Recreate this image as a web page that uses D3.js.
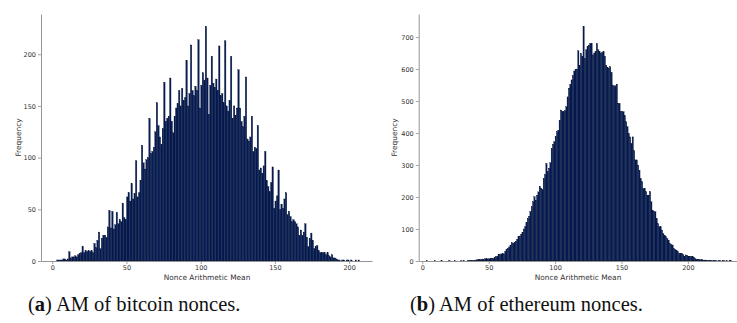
<!DOCTYPE html>
<html>
<head>
<meta charset="utf-8">
<script src="https://cdn.jsdelivr.net/npm/d3@7"></script>
<style>
  body { margin: 0; background: #fff; }
  svg { display: block; }
</style>
</head>
<body>
<svg id="chart" width="737" height="323"></svg>
<script>
// bin counts, one bin per unit of the nonce mean
const btcStart = 3
const btcCounts = [
  1, 1, 1, 1, 2, 2, 1, 2, 9, 3,
  4, 4, 5, 4, 6, 7, 8, 14, 8, 10,
  9, 10, 9, 10, 8, 17, 13, 20, 28, 12,
  22, 25, 25, 23, 33, 49, 32, 48, 31, 35,
  47, 36, 40, 38, 56, 42, 40, 62, 66, 58,
  75, 60, 65, 97, 62, 66, 78, 112, 95, 89,
  98, 100, 138, 104, 106, 110, 125, 153, 131, 120,
  113, 128, 173, 135, 138, 140, 177, 135, 124, 140,
  148, 152, 165, 150, 167, 155, 158, 194, 150, 162,
  209, 165, 160, 169, 165, 214, 148, 170, 182, 175,
  227, 177, 142, 170, 198, 172, 168, 176, 165, 208,
  160, 162, 153, 213, 150, 145, 155, 198, 138, 150,
  141, 148, 185, 148, 135, 130, 140, 178, 118, 116,
  120, 140, 106, 110, 109, 131, 88, 90, 85, 92,
  106, 78, 72, 67, 76, 91, 51, 58, 63, 88,
  50, 55, 51, 60, 66, 45, 48, 43, 38, 40,
  38, 36, 33, 25, 30, 25, 28, 36, 23, 14,
  22, 27, 20, 12, 14, 15, 10, 8, 8, 8,
  8, 6, 8, 5, 4, 6, 3, 3, 2, 1,
  1, 0, 1, 1, 0, 1, 1, 0, 1, 0, 0, 1, 0, 1
]

const ethStart = 0
const ethCounts = [
  0, 0, 0, 1, 0, 0, 0, 0, 0, 1,
  0, 0, 0, 0, 1, 0, 0, 0, 0, 0,
  1, 0, 0, 0, 1, 0, 0, 0, 0, 1,
  0, 1, 0, 0, 1, 2, 1, 2, 2, 1,
  3, 4, 5, 4, 5, 6, 5, 7, 8, 6,
  7, 8, 9, 8, 11, 13, 15, 21, 20, 22,
  24, 22, 30, 37, 40, 44, 50, 57, 55, 58,
  62, 68, 76, 78, 84, 90, 100, 107, 120, 133,
  140, 155, 170, 185, 201, 190, 205, 216, 234, 228,
  224, 258, 270, 305, 279, 290, 307, 352, 365, 373,
  390, 404, 409, 440, 472, 468, 467, 470, 482, 513,
  540, 552, 566, 580, 594, 598, 600, 657, 612, 649,
  640, 734, 633, 660, 670, 675, 680, 680, 644, 650,
  654, 680, 660, 654, 649, 652, 654, 640, 612, 605,
  602, 607, 590, 550, 545, 548, 553, 493, 493, 467,
  467, 467, 455, 435, 420, 399, 388, 368, 388, 345,
  316, 316, 300, 284, 258, 248, 227, 227, 217, 206,
  206, 217, 185, 159, 154, 154, 133, 117, 107, 107,
  97, 86, 80, 76, 70, 65, 55, 52, 50, 39,
  36, 32, 29, 24, 24, 24, 20, 15, 19, 17,
  15, 15, 14, 15, 12, 8, 6, 5, 5, 4,
  5, 3, 3, 3, 2, 2, 2, 1, 1, 1,
  1, 1, 0, 1, 1, 0, 1, 1, 0, 1, 0, 1, 1
]

const btcTicksX = [0, 50, 100, 150, 200]
const btcTicksY = [0, 50, 100, 150, 200]
const ethTicksX = [0, 50, 100, 150, 200]
const ethTicksY = [0, 100, 200, 300, 400, 500, 600, 700]

const xLabel = 'Nonce Arithmetic Mean'
const yLabel = 'Frequency'
const captionTags = ['a', 'b']
const captionTexts = [' AM of bitcoin nonces.', ' AM of ethereum nonces.']

const svg = d3.select('#chart')
const axisColor = '#8a8a8a'
const textColor = '#333'

function drawHist(opts) {
    const g = svg.append('g')
    const bins = opts.counts.map((c, i) => ({ x0: opts.start + i, x1: opts.start + i + 1, n: c }))

    const x = d3.scaleLinear().domain(opts.xDomain).range(opts.xRange)
    const y = d3.scaleLinear().domain(opts.yDomain).range([261, 14])

    g.selectAll('rect')
        .data(bins.filter(d => d.n > 0))
        .enter()
        .append('rect')
        .attr('x', d => x(d.x0))
        .attr('width', d => x(d.x1) - x(d.x0))
        .attr('y', d => y(d.n))
        .attr('height', d => y(0) - y(d.n))
        .attr('fill', '#031b57')
        .attr('stroke', '#0a1430')
        .attr('stroke-width', 0.3)

    const xAxis = g.append('g')
        .attr('transform', `translate(0, ${y.range()[0]})`)
        .call(d3.axisBottom(x).tickValues(opts.ticksX).tickSize(3).tickPadding(1.2).tickSizeOuter(0))
    const yAxis = g.append('g')
        .attr('transform', `translate(${opts.xRange[0]}, 0)`)
        .call(d3.axisLeft(y).tickValues(opts.ticksY).tickSize(3).tickPadding(2).tickSizeOuter(0))

    for (const ax of [xAxis, yAxis]) {
        ax.select('.domain').attr('stroke', axisColor).attr('stroke-width', 0.9)
        ax.selectAll('.tick line').attr('stroke', axisColor).attr('stroke-width', 0.8)
        ax.selectAll('.tick text')
            .attr('fill', textColor)
            .style('font-family', 'DejaVu Sans')
            .style('font-size', '6.5px')
    }

    g.append('text')
        .attr('x', opts.labelX)
        .attr('y', 280)
        .attr('text-anchor', 'middle')
        .attr('fill', textColor)
        .style('font-family', 'DejaVu Sans')
        .style('font-size', '7.4px')
        .text(xLabel)

    g.append('text')
        .attr('transform', `translate(${opts.yLabelX}, 137.5) rotate(-90)`)
        .attr('text-anchor', 'middle')
        .attr('fill', textColor)
        .style('font-family', 'DejaVu Sans')
        .style('font-size', '7.4px')
        .text(yLabel)
}

drawHist({
    start: btcStart, counts: btcCounts,
    xDomain: [-7.6, 215.4], xRange: [41, 372],
    yDomain: [0, 238.9],
    ticksX: btcTicksX, ticksY: btcTicksY,
    labelX: 207, yLabelX: 21
})

drawHist({
    start: ethStart, counts: ethCounts,
    xDomain: [-2.7, 237], xRange: [418.7, 737],
    yDomain: [0, 772],
    ticksX: ethTicksX, ticksY: ethTicksY,
    labelX: 578, yLabelX: 397
})

// subfigure captions
const capX = [28, 410]
captionTags.forEach((tag, i) => {
    const t = svg.append('text')
        .attr('x', capX[i])
        .attr('y', 311)
        .attr('fill', '#111')
        .style('font-family', 'Liberation Serif')
        .style('font-size', '20.5px')
    t.append('tspan').text('(')
    t.append('tspan').attr('font-weight', 'bold').text(tag)
    t.append('tspan').text(')' + captionTexts[i])
})
</script>
</body>
</html>
